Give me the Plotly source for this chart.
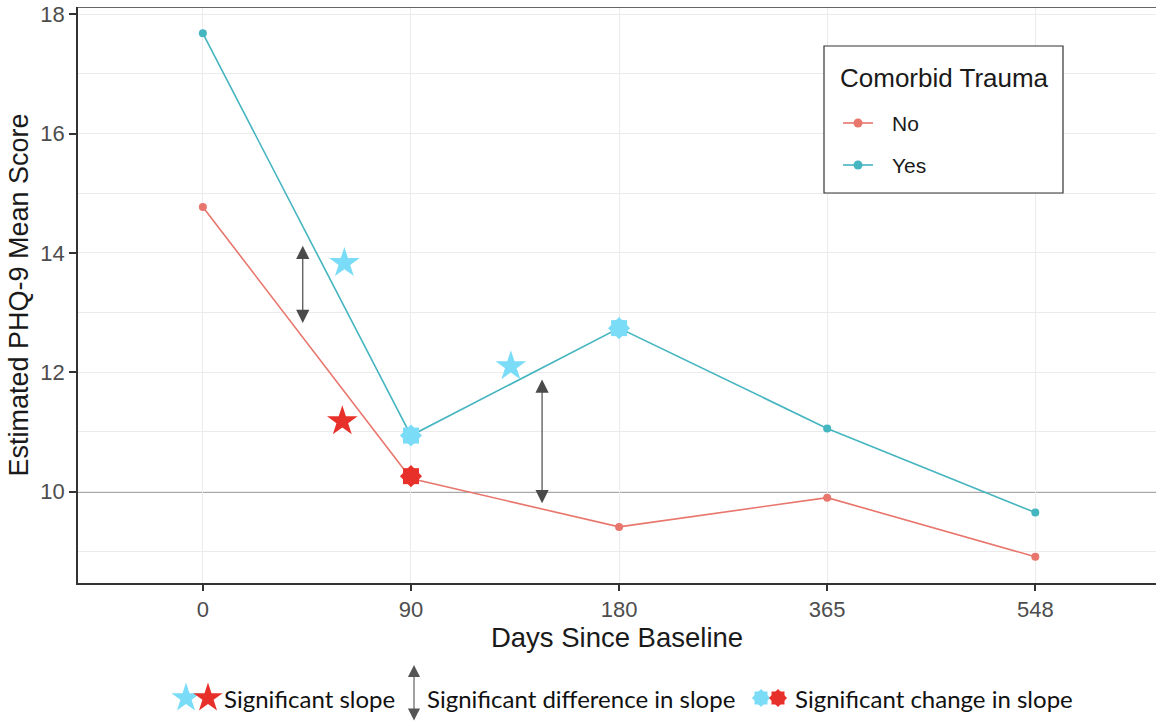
import plotly.graph_objects as go

# ---------------- data ----------------
days = ["0", "90", "180", "365", "548"]
yes_scores = [17.68, 10.94, 12.74, 11.06, 9.65]
no_scores = [14.77, 10.22, 9.41, 9.90, 8.91]
group_names = ["No", "Yes"]
legend_title = "Comorbid Trauma"

# significant slope stars (x in category-index units, y in score)
slope_star_x = [0.68, 0.67, 1.48]
slope_star_y = [13.83, 11.18, 12.10]
slope_star_col = ["#7ADCF6", "#E8302A", "#7ADCF6"]

# significant change in slope bursts (category index, score)
burst_x = [1, 1, 2]
burst_y = [10.94, 10.26, 12.74]
burst_col = ["#7ADCF6", "#E8302A", "#7ADCF6"]

# significant difference in slope arrows (category index, top, bottom)
arrow_x = [0.48, 1.63]
arrow_top = [14.12, 11.88]
arrow_bot = [12.80, 9.78]

key_labels = ["Significant slope", "Significant difference in slope", "Significant change in slope"]

RED = "#E8766D"
TEAL = "#45B5C0"
LBLUE = "#7ADCF6"
DRED = "#E8302A"
ARROW = "#4A4A4A"
FONT = "Liberation Sans, Arial, sans-serif"

xi = list(range(len(days)))

fig = go.Figure()
fig.add_trace(go.Scatter(x=xi, y=no_scores, mode="lines+markers", name=group_names[0], showlegend=False,
                         line=dict(color=RED, width=1.6), marker=dict(color=RED, size=8)))
fig.add_trace(go.Scatter(x=xi, y=yes_scores, mode="lines+markers", name=group_names[1], showlegend=False,
                         line=dict(color=TEAL, width=1.6), marker=dict(color=TEAL, size=8)))

# stars
fig.add_trace(go.Scatter(x=slope_star_x, y=slope_star_y, mode="markers", showlegend=False,
                         marker=dict(symbol="star", size=23, color=slope_star_col, line=dict(width=0))))
# bursts: square + diamond overlay = 8-point star
fig.add_trace(go.Scatter(x=burst_x, y=burst_y, mode="markers", showlegend=False,
                         marker=dict(symbol="square", size=16, color=burst_col, line=dict(width=0))))
fig.add_trace(go.Scatter(x=burst_x, y=burst_y, mode="markers", showlegend=False,
                         marker=dict(symbol="diamond", size=17, color=burst_col, line=dict(width=0))))

for ax, t, b in zip(arrow_x, arrow_top, arrow_bot):
    fig.add_annotation(x=ax, y=t, ax=ax, ay=b, xref="x", yref="y", axref="x", ayref="y",
                       text="", showarrow=True, arrowhead=2, startarrowhead=2, arrowside="end+start",
                       arrowsize=2.2, startarrowsize=2.2, arrowwidth=1.2, arrowcolor=ARROW,
                       standoff=0, startstandoff=0)

# horizontal reference line at 10
fig.add_shape(type="line", xref="paper", yref="y", x0=0, x1=1, y0=10, y1=10,
              line=dict(color="#555555", width=1.5), layer="between")
# top border line
fig.add_shape(type="line", xref="paper", yref="y", x0=0, x1=1, y0=18.12, y1=18.12,
              line=dict(color="#333333", width=1.5))

# ---------------- overlay pixel-space axis (x2/y2) for legend box and key row ----------------
fig.add_shape(type="rect", xref="x2", yref="y2", x0=824, x1=1063, y0=46, y1=193,
              line=dict(color="#333333", width=1.2), fillcolor="white", layer="above")
fig.add_annotation(x=838, y=78, xref="x2", yref="y2", text=legend_title, showarrow=False,
                   xanchor="left", yanchor="middle", font=dict(family=FONT, size=26, color="#1A1A1A"))
for name, col, yy in zip(group_names, [RED, TEAL], [123, 165]):
    fig.add_shape(type="line", xref="x2", yref="y2", x0=843, x1=873, y0=yy, y1=yy,
                  line=dict(color=col, width=1.6), layer="above")
    fig.add_shape(type="circle", xref="x2", yref="y2", x0=853.5, x1=862.5, y0=yy - 4.5, y1=yy + 4.5,
                  line=dict(width=0), fillcolor=col, layer="above")
    fig.add_annotation(x=890, y=yy, xref="x2", yref="y2", text=name, showarrow=False,
                       xanchor="left", yanchor="middle", font=dict(family=FONT, size=21, color="#1A1A1A"))

fig.add_trace(go.Scatter(x=[186, 208], y=[698, 698], xaxis="x2", yaxis="y2", mode="markers",
                         showlegend=False, hoverinfo="skip",
                         marker=dict(symbol="star", size=22, color=[LBLUE, DRED], line=dict(width=0))))
fig.add_trace(go.Scatter(x=[761, 778], y=[698, 698], xaxis="x2", yaxis="y2", mode="markers",
                         showlegend=False, hoverinfo="skip",
                         marker=dict(symbol="square", size=13, color=[LBLUE, DRED], line=dict(width=0))))
fig.add_trace(go.Scatter(x=[761, 778], y=[698, 698], xaxis="x2", yaxis="y2", mode="markers",
                         showlegend=False, hoverinfo="skip",
                         marker=dict(symbol="diamond", size=14, color=[LBLUE, DRED], line=dict(width=0))))
fig.add_annotation(x=414, y=665, ax=414, ay=722, xref="x2", yref="y2", axref="x2", ayref="y2",
                   text="", showarrow=True, arrowhead=2, startarrowhead=2, arrowside="end+start",
                   arrowsize=2.2, startarrowsize=2.2, arrowwidth=1.1, arrowcolor="#555555",
                   standoff=0, startstandoff=0)
for tx, lab in zip([222, 425, 793], key_labels):
    fig.add_annotation(x=tx, y=698, xref="x2", yref="y2", text=lab, showarrow=False,
                       xanchor="left", yanchor="middle",
                       font=dict(family="Lato, Open Sans, sans-serif", size=24, color="#111111"))

fig.update_layout(
    width=1156, height=727,
    margin=dict(l=78, r=0, t=7, b=0, autoexpand=False),
    paper_bgcolor="white", plot_bgcolor="rgba(0,0,0,0)",
    font=dict(family=FONT),
    xaxis=dict(domain=[0, 1], range=[-0.6, 4.58], tickvals=xi, ticktext=days, automargin=False,
               showgrid=True, gridcolor="#EBEBEB", gridwidth=1.2, zeroline=False,
               showline=True, linecolor="#333333", linewidth=1.5,
               ticks="outside", ticklen=6, tickcolor="#333333", tickwidth=1.5,
               tickfont=dict(size=22, color="#4D4D4D"),
               title=dict(text="Days Since Baseline", font=dict(size=27.5, color="#1A1A1A"), standoff=2),
               anchor="y"),
    yaxis=dict(domain=[0.2, 1], range=[8.47, 18.12], tickvals=[10, 12, 14, 16, 18], automargin=False,
               showgrid=True, gridcolor="#EBEBEB", gridwidth=1.2, zeroline=False,
               minor=dict(tickvals=[9, 11, 13, 15, 17], showgrid=True, gridcolor="#EBEBEB", gridwidth=1.2),
               showline=True, linecolor="#333333", linewidth=1.5,
               ticks="outside", ticklen=7, tickcolor="#333333", tickwidth=1.5,
               tickfont=dict(size=22, color="#4D4D4D"),
               title=dict(text="Estimated PHQ-9 Mean Score", font=dict(size=27, color="#1A1A1A"), standoff=4),
               anchor="x"),
    xaxis2=dict(domain=[0, 1], range=[78, 1156], visible=False, anchor="y2"),
    yaxis2=dict(domain=[0, 1], range=[727, 7], visible=False, anchor="x2"),
    showlegend=False,
)

fig.write_html("out.html", config={"displayModeBar": False},
               post_script="document.body.style.margin='0px';")
